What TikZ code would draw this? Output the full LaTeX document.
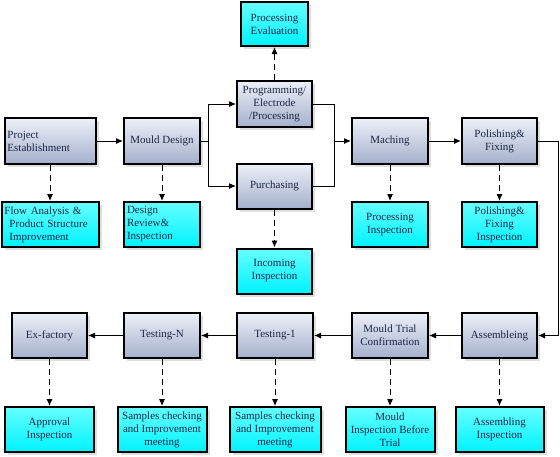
\documentclass[tikz,border=0pt]{standalone}
\usepackage{fontspec}
\setmainfont{Liberation Serif}
\usetikzlibrary{positioning,arrows.meta,shadows}
\definecolor{txtblue}{RGB}{28,38,68}
\definecolor{boxtop}{RGB}{236,240,248}
\definecolor{boxbot}{RGB}{164,176,204}

\begin{document}
\begin{tikzpicture}[x=1pt,y=-1pt,>={Latex[length=7pt,width=6pt]},
  stage/.style={draw=black,line width=2pt,top color=boxtop,bottom color=boxbot,
    text=txtblue,font=\fontsize{11}{13}\selectfont,align=center,
    minimum width=76pt,minimum height=46pt,inner sep=3pt,
    drop shadow={shadow xshift=3pt,shadow yshift=-3pt,fill=black!25}},
  check/.style={stage,top color=cyan!60!white,bottom color=cyan!95!blue,minimum height=45pt},
  link/.style={line width=1pt},
  flow/.style={->,line width=1pt},
  insp/.style={->,line width=1pt,dash pattern=on 6pt off 4pt}]

\useasboundingbox (0,0) rectangle (560,456);

\node[stage,align=left,text width=85pt] (proj) at (50,141) {Project\\Establishment};
\node[stage] (mould) at (162,141) {Mould Design};
\node[stage,minimum width=75pt] (prog) at (274.5,104) {Programming/\\Electrode\\/Processing};
\node[stage,minimum width=75pt,minimum height=45pt] (purch) at (274.5,186) {Purchasing};
\node[stage] (mach) at (390,141) {Maching};
\node[stage,minimum width=75pt] (polish) at (499.5,141) {Polishing\&\\Fixing};

\node[check,minimum width=67pt,minimum height=44pt] (eval) at (274.5,24) {Processing\\Evaluation};
\node[check,align=left,text width=91pt,below=36pt of proj] (flowan) {Flow Analysis \&\\\hspace*{5pt}Product Structure\\\hspace*{5pt}Improvement};
\node[check,align=left,text width=70pt,below=36pt of mould] (review) {Design\\Review\&\\Inspection};
\node[check,minimum width=75pt,below=38pt of purch] (incom) {Incoming\\Inspection};
\node[check,below=36pt of mach] (procinsp) {Processing\\Inspection};
\node[check,minimum width=75pt,below=36pt of polish] (polinsp) {Polishing\&\\Fixing\\Inspection};

%bottom row
\node[stage,minimum width=75pt,minimum height=45pt] (exf) at (49.5,335.5) {Ex-factory};
\node[stage,minimum height=45pt] (testn) at (162,335.5) {Testing-N};
\node[stage,minimum height=45pt] (testa) at (275,335.5) {Testing-1};
\node[stage,minimum height=45pt] (trial) at (390,335.5) {Mould Trial\\Confirmation};
\node[stage,minimum width=75pt,minimum height=45pt] (assem) at (499.5,335.5) {Assembleing};

\node[check,minimum width=89pt,below=47pt of exf] (approval) {Approval\\Inspection};
\node[check,minimum width=89pt,below=47pt of testn] (samn) {Samples checking\\and Improvement\\meeting};
\node[check,minimum width=91pt,below=47pt of testa] (sama) {Samples checking\\and Improvement\\meeting};
\node[check,minimum width=89pt,below=47pt of trial] (mibt) {Mould\\Inspection Before\\Trial};
\node[check,minimum width=88pt,below=47pt of assem] (asinsp) {Assembling\\Inspection};

\coordinate (fork) at (208,141);
\coordinate (merge) at (334,141);
\coordinate (bend) at (558,141);

\draw[flow] (proj) -- (mould);
\draw[link] (mould) -- (fork);
\draw[flow] (fork) |- (prog);
\draw[flow] (fork) |- (purch);
\draw[link] (prog) -| (merge);
\draw[link] (purch) -| (merge);
\draw[flow] (merge) -- (mach);
\draw[flow] (mach) -- (polish);
\draw[flow] (polish) -- (bend) |- (assem);
\draw[flow] (assem) -- (trial);
\draw[flow] (trial) -- (testa);
\draw[flow] (testa) -- (testn);
\draw[flow] (testn) -- (exf);

%inspections
\draw[insp] (prog) -- (eval);
\draw[insp] (proj) -- (flowan);
\draw[insp] (mould) -- (review);
\draw[insp] (purch) -- (incom);
\draw[insp] (mach) -- (procinsp);
\draw[insp] (polish) -- (polinsp);
\draw[insp] (exf) -- (approval);
\draw[insp] (testn) -- (samn);
\draw[insp] (testa) -- (sama);
\draw[insp] (trial) -- (mibt);
\draw[insp] (assem) -- (asinsp);
\end{tikzpicture}
\end{document}
